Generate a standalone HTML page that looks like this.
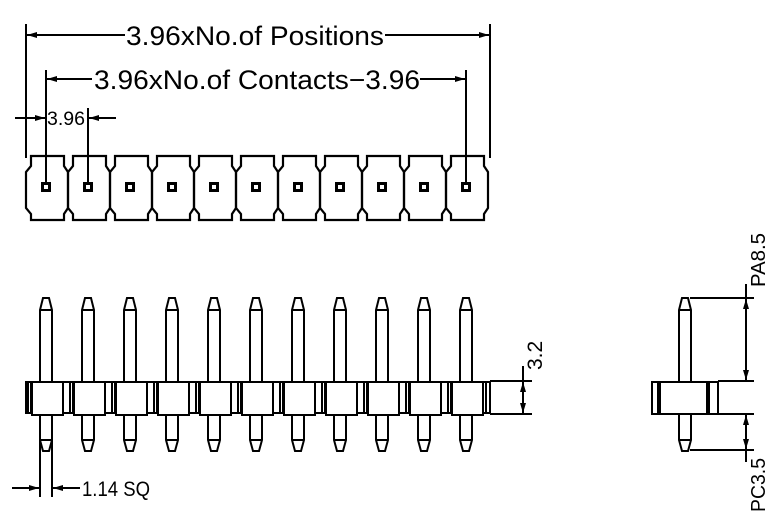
<!DOCTYPE html>
<html><head><meta charset="utf-8"><style>html,body{margin:0;padding:0;background:#fff}svg{display:block}</style></head>
<body>
<svg width="775" height="528" viewBox="0 0 775 528" xmlns="http://www.w3.org/2000/svg" xmlns:xlink="http://www.w3.org/1999/xlink" font-family="Liberation Sans, sans-serif">
<defs>
<marker id="a" viewBox="0 0 10 6" refX="10" refY="3" markerWidth="10" markerHeight="6" orient="auto-start-reverse" markerUnits="userSpaceOnUse"><path d="M0,0L10,3L0,6z" fill="#000"/></marker>
<g id="cell">
<path d="M-15,156H18V166L22,172V208L18,214V220H-15V214L-20,208V172L-15,166Z" fill="none" stroke="#000" stroke-width="2.2"/>
<rect x="-5" y="182" width="10" height="10" fill="#000"/><rect x="-2" y="185" width="4" height="4" fill="#fff"/>
</g>
<g id="pin" stroke="#000" stroke-width="2">
<path d="M-6,382V310L-3,298H3L6,310V382M-6,310H6" fill="#fff"/>
<path d="M-6,415V440L-3,451H3L6,440V415M-6,440H6" fill="#fff"/>
<rect x="-14" y="382" width="31" height="33" fill="#fff"/>
<line x1="-18" y1="382" x2="-18" y2="413"/><line x1="-15" y1="382" x2="-15" y2="413"/>
</g>
</defs>
<g stroke="#000" stroke-width="2" fill="none">
<line x1="26" y1="24" x2="26" y2="158"/><line x1="490" y1="24" x2="490" y2="158"/>
<line x1="27" y1="35" x2="125" y2="35" marker-start="url(#a)"/><line x1="385" y1="35" x2="489" y2="35" marker-end="url(#a)"/>
<line x1="46" y1="70" x2="46" y2="187"/><line x1="466" y1="70" x2="466" y2="187"/>
<line x1="47" y1="79" x2="92" y2="79" marker-start="url(#a)"/><line x1="420" y1="79" x2="465" y2="79" marker-end="url(#a)"/>
<line x1="88" y1="108" x2="88" y2="187"/>
<line x1="15" y1="118" x2="45" y2="118" marker-end="url(#a)"/><line x1="89" y1="118" x2="116" y2="118" marker-start="url(#a)"/>
</g>
<g fill="#000">
<text x="126" y="45" font-size="27" textLength="258" lengthAdjust="spacingAndGlyphs">3.96xNo.of  Positions</text>
<text x="94" y="89" font-size="27" textLength="326" lengthAdjust="spacingAndGlyphs">3.96xNo.of  Contacts−3.96</text>
<text x="47" y="125" font-size="19" textLength="38" lengthAdjust="spacingAndGlyphs">3.96</text>
</g>
<use xlink:href="#cell" x="46"/><use xlink:href="#cell" x="88"/><use xlink:href="#cell" x="130"/><use xlink:href="#cell" x="172"/><use xlink:href="#cell" x="214"/><use xlink:href="#cell" x="256"/><use xlink:href="#cell" x="298"/><use xlink:href="#cell" x="340"/><use xlink:href="#cell" x="382"/><use xlink:href="#cell" x="424"/><use xlink:href="#cell" x="466"/>
<path d="M26,382H490V413H26Z" fill="#fff" stroke="#000" stroke-width="2"/>
<use xlink:href="#pin" x="46"/><use xlink:href="#pin" x="88"/><use xlink:href="#pin" x="130"/><use xlink:href="#pin" x="172"/><use xlink:href="#pin" x="214"/><use xlink:href="#pin" x="256"/><use xlink:href="#pin" x="298"/><use xlink:href="#pin" x="340"/><use xlink:href="#pin" x="382"/><use xlink:href="#pin" x="424"/><use xlink:href="#pin" x="466"/>
<g stroke="#000" stroke-width="2"><line x1="486" y1="382" x2="486" y2="413"/></g>
<g stroke="#000" stroke-width="2" fill="none">
<line x1="490" y1="381" x2="532" y2="381"/><line x1="490" y1="414" x2="532" y2="414"/>
<line x1="523" y1="366" x2="523" y2="380"/><line x1="523" y1="382" x2="523" y2="398" marker-start="url(#a)"/><line x1="523" y1="398" x2="523" y2="413" marker-end="url(#a)"/>
<line x1="40" y1="440" x2="40" y2="497"/><line x1="52" y1="440" x2="52" y2="497"/>
<line x1="12" y1="488" x2="39" y2="488" marker-end="url(#a)"/><line x1="53" y1="488" x2="80" y2="488" marker-start="url(#a)"/>
<path d="M679,382V310L682,298H688L691,310V382M679,310H691" fill="#fff"/>
<path d="M679,415V440L682,451H688L691,440V415M679,440H691" fill="#fff"/>
<rect x="652" y="382" width="66" height="32" fill="#fff"/>
<line x1="659" y1="382" x2="659" y2="414" stroke-width="4"/><line x1="708" y1="382" x2="708" y2="414" stroke-width="4"/>
<line x1="690" y1="298" x2="754" y2="298"/><line x1="718" y1="381" x2="754" y2="381"/>
<line x1="718" y1="414" x2="754" y2="414"/><line x1="690" y1="450" x2="754" y2="450"/>
<line x1="746" y1="284" x2="746" y2="297"/>
<line x1="746" y1="299" x2="746" y2="380" marker-start="url(#a)" marker-end="url(#a)"/>
<line x1="746" y1="415" x2="746" y2="432" marker-start="url(#a)"/><line x1="746" y1="432" x2="746" y2="449" marker-end="url(#a)"/>
<line x1="746" y1="451" x2="746" y2="462"/>
</g>
<g fill="#000">
<text x="82" y="496" font-size="21" textLength="68" lengthAdjust="spacingAndGlyphs">1.14 SQ</text>
<text transform="translate(542,370) rotate(-90)" font-size="21">3.2</text>
<text transform="translate(765,287) rotate(-90)" font-size="20" textLength="54" lengthAdjust="spacingAndGlyphs">PA8.5</text>
<text transform="translate(765,512) rotate(-90)" font-size="20" textLength="54" lengthAdjust="spacingAndGlyphs">PC3.5</text>
</g>
</svg>
</body></html>
